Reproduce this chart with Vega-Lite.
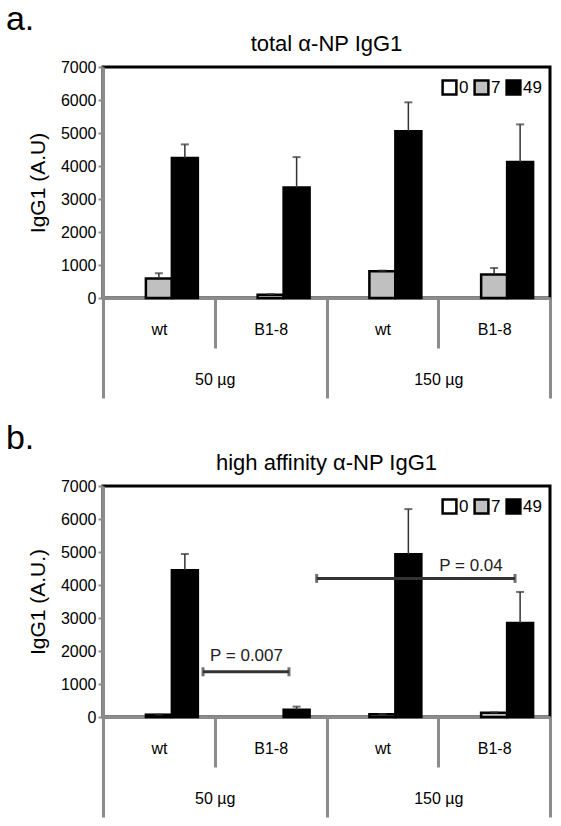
{
  "$schema": "https://vega.github.io/schema/vega-lite/v6.json",
  "padding": {"left": 5, "top": 2, "right": 5, "bottom": 5},
  "config": {
    "font": "Liberation Sans",
    "view": {"stroke": "black", "strokeWidth": 3},
    "title": {"fontWeight": "normal", "color": "black", "font": "Liberation Sans"},
    "axisY": {"labelFont": "Liberation Sans", "titleFont": "Liberation Sans", "titleFontSize": 21, "titleFontWeight": "normal", "titleColor": "black", "titlePadding": 12, "labelFontSize": 16, "labelColor": "black", "values": [0, 1000, 2000, 3000, 4000, 5000, 6000, 7000], "format": "d", "tickSize": 5, "tickWidth": 2, "tickColor": "#8c8c8c", "domainColor": "#8c8c8c", "domainWidth": 3, "grid": false, "labelPadding": 2},
    "axisX": {"labelFont": "Liberation Sans"},
    "legend": {"gridAlign": "none"}
  },
  "datasets": {
    "barsA": [
      {"grp": "wt 50", "day": "7", "value": 590, "upper": 750},
      {"grp": "wt 50", "day": "49", "value": 4240, "upper": 4655},
      {"grp": "B1-8 50", "day": "7", "value": 100, "upper": 120},
      {"grp": "B1-8 50", "day": "49", "value": 3350, "upper": 4270},
      {"grp": "wt 150", "day": "7", "value": 810, "upper": 830},
      {"grp": "wt 150", "day": "49", "value": 5050, "upper": 5930},
      {"grp": "B1-8 150", "day": "7", "value": 710, "upper": 910},
      {"grp": "B1-8 150", "day": "49", "value": 4120, "upper": 5260}
    ],
    "barsB": [
      {"grp": "wt 50", "day": "7", "value": 70, "upper": 75},
      {"grp": "wt 50", "day": "49", "value": 4450, "upper": 4940},
      {"grp": "B1-8 50", "day": "49", "value": 220, "upper": 315},
      {"grp": "wt 150", "day": "7", "value": 80, "upper": 90},
      {"grp": "wt 150", "day": "49", "value": 4930, "upper": 6300},
      {"grp": "B1-8 150", "day": "7", "value": 130, "upper": 140},
      {"grp": "B1-8 150", "day": "49", "value": 2845, "upper": 3790}
    ],
    "dose": [{"dose": "50 µg"}, {"dose": "150 µg"}],
    "pvals": [
      {"x1": 0.895, "x2": 1.664, "y": 1370, "tx": 1.284, "ty": 1838, "label": "P = 0.007"},
      {"x1": 1.912, "x2": 3.687, "y": 4200, "tx": 3.293, "ty": 4573, "label": "P = 0.04"}
    ]
  },
  "resolve": {"scale": {"color": "independent", "y": "independent", "x": "independent"}, "legend": {"color": "independent"}},
  "spacing": 20,
  "vconcat": [
    {
      "title": {"text": "a.", "anchor": "start", "frame": "bounds", "fontSize": 34, "dx": -20, "offset": -5},
      "vconcat": [
        {
          "width": 447,
          "height": 231,
          "title": {"text": "total α-NP IgG1", "fontSize": 22, "offset": 3},
          "resolve": {"scale": {"x": "independent"}},
          "layer": [
            {
              "data": {"name": "barsA"},
              "encoding": {
                "x": {"field": "grp", "type": "nominal", "sort": null,
                  "scale": {"domain": ["wt 50", "B1-8 50", "wt 150", "B1-8 150"], "paddingInner": 0, "paddingOuter": 0},
                  "axis": {"title": null, "labelExpr": "split(datum.label, ' ')[0]", "labelAngle": 0, "labelFontSize": 16, "labelColor": "black", "labelBaseline": "middle", "labelPadding": -19, "tickBand": "extent", "tickSize": 50, "tickWidth": 3, "tickColor": "#8c8c8c", "domainColor": "#8c8c8c", "domainWidth": 3, "orient": "bottom"}},
                "xOffset": {"field": "day", "type": "nominal", "scale": {"domain": ["0", "7", "49"], "paddingInner": 0, "paddingOuter": 0.65}}
              },
              "layer": [
                {
                  "mark": {"type": "bar", "stroke": "black", "strokeWidth": 2.5},
                  "encoding": {
                    "y": {"field": "value", "type": "quantitative", "scale": {"domain": [0, 7000], "nice": false}, "axis": {"title": "IgG1 (A.U)"}},
                    "color": {"field": "day", "type": "nominal",
                      "scale": {"domain": ["0", "7", "49"], "range": ["white", "#c0c0c0", "black"]},
                      "legend": {"title": null, "orient": "none", "legendX": 338, "legendY": 12, "direction": "horizontal", "symbolType": "square", "symbolSize": 190, "symbolStrokeColor": "black", "symbolStrokeWidth": 2.5, "symbolOpacity": 1, "labelFontSize": 17, "labelOffset": 1, "columnPadding": 0, "padding": 0, "labelColor": "black"}}
                  }
                },
                {
                  "mark": {"type": "rule", "color": "#333333", "strokeWidth": 1.5},
                  "encoding": {"y": {"field": "value", "type": "quantitative", "axis": {"title": "IgG1 (A.U)"}}, "y2": {"field": "upper"}}
                },
                {
                  "mark": {"type": "tick", "color": "#333333", "thickness": 2, "size": 8},
                  "encoding": {"y": {"field": "upper", "type": "quantitative", "axis": {"title": "IgG1 (A.U)"}}}
                }
              ]
            },
            {
              "data": {"name": "dose"},
              "mark": {"type": "point", "opacity": 0},
              "encoding": {
                "x": {"field": "dose", "type": "nominal", "sort": null,
                  "scale": {"domain": ["50 µg", "150 µg"], "paddingInner": 0, "paddingOuter": 0},
                  "axis": {"title": null, "orient": "bottom", "domain": false, "labelAngle": 0, "labelFontSize": 16, "labelColor": "black", "labelBaseline": "middle", "labelPadding": -19, "tickBand": "extent", "tickSize": 100, "tickWidth": 3, "tickColor": "#8c8c8c"}}
              }
            }
          ]
        }
      ]
    },
    {
      "title": {"text": "b.", "anchor": "start", "frame": "bounds", "fontSize": 34, "dx": -20, "offset": -5},
      "vconcat": [
        {
          "width": 447,
          "height": 231,
          "title": {"text": "high affinity α-NP IgG1", "fontSize": 22, "offset": 3},
          "resolve": {"scale": {"x": "independent"}},
          "layer": [
            {
              "data": {"name": "barsB"},
              "encoding": {
                "x": {"field": "grp", "type": "nominal", "sort": null,
                  "scale": {"domain": ["wt 50", "B1-8 50", "wt 150", "B1-8 150"], "paddingInner": 0, "paddingOuter": 0},
                  "axis": {"title": null, "labelExpr": "split(datum.label, ' ')[0]", "labelAngle": 0, "labelFontSize": 16, "labelColor": "black", "labelBaseline": "middle", "labelPadding": -19, "tickBand": "extent", "tickSize": 50, "tickWidth": 3, "tickColor": "#8c8c8c", "domainColor": "#8c8c8c", "domainWidth": 3, "orient": "bottom"}},
                "xOffset": {"field": "day", "type": "nominal", "scale": {"domain": ["0", "7", "49"], "paddingInner": 0, "paddingOuter": 0.65}}
              },
              "layer": [
                {
                  "mark": {"type": "bar", "stroke": "black", "strokeWidth": 2.5},
                  "encoding": {
                    "y": {"field": "value", "type": "quantitative", "scale": {"domain": [0, 7000], "nice": false}, "axis": {"title": "IgG1 (A.U.)"}},
                    "color": {"field": "day", "type": "nominal",
                      "scale": {"domain": ["0", "7", "49"], "range": ["white", "#c0c0c0", "black"]},
                      "legend": {"title": null, "orient": "none", "legendX": 338, "legendY": 12, "direction": "horizontal", "symbolType": "square", "symbolSize": 190, "symbolStrokeColor": "black", "symbolStrokeWidth": 2.5, "symbolOpacity": 1, "labelFontSize": 17, "labelOffset": 1, "columnPadding": 0, "padding": 0, "labelColor": "black"}}
                  }
                },
                {
                  "mark": {"type": "rule", "color": "#333333", "strokeWidth": 1.5},
                  "encoding": {"y": {"field": "value", "type": "quantitative", "axis": {"title": "IgG1 (A.U.)"}}, "y2": {"field": "upper"}}
                },
                {
                  "mark": {"type": "tick", "color": "#333333", "thickness": 2, "size": 8},
                  "encoding": {"y": {"field": "upper", "type": "quantitative", "axis": {"title": "IgG1 (A.U.)"}}}
                }
              ]
            },
            {
              "data": {"name": "dose"},
              "mark": {"type": "point", "opacity": 0},
              "encoding": {
                "x": {"field": "dose", "type": "nominal", "sort": null,
                  "scale": {"domain": ["50 µg", "150 µg"], "paddingInner": 0, "paddingOuter": 0},
                  "axis": {"title": null, "orient": "bottom", "domain": false, "labelAngle": 0, "labelFontSize": 16, "labelColor": "black", "labelBaseline": "middle", "labelPadding": -19, "tickBand": "extent", "tickSize": 100, "tickWidth": 3, "tickColor": "#8c8c8c"}}
              }
            },
            {
              "data": {"name": "pvals"},
              "encoding": {
                "x": {"field": "x1", "type": "quantitative", "scale": {"domain": [0, 4], "nice": false, "zero": false}, "axis": null},
                "y": {"field": "y", "type": "quantitative", "axis": {"title": "IgG1 (A.U.)"}}
              },
              "layer": [
                {"mark": {"type": "rule", "color": "#333333", "strokeWidth": 3}, "encoding": {"x2": {"field": "x2"}}},
                {"mark": {"type": "tick", "orient": "vertical", "color": "#333333", "thickness": 3, "size": 9}},
                {"mark": {"type": "tick", "orient": "vertical", "color": "#333333", "thickness": 3, "size": 9},
                  "encoding": {"x": {"field": "x2", "type": "quantitative", "axis": null}}},
                {"mark": {"type": "text", "fontSize": 17, "color": "#222222", "baseline": "middle", "align": "center"},
                  "encoding": {"x": {"field": "tx", "type": "quantitative", "axis": null}, "y": {"field": "ty", "type": "quantitative", "axis": {"title": "IgG1 (A.U.)"}}, "text": {"field": "label"}}}
              ]
            }
          ]
        }
      ]
    }
  ]
}
